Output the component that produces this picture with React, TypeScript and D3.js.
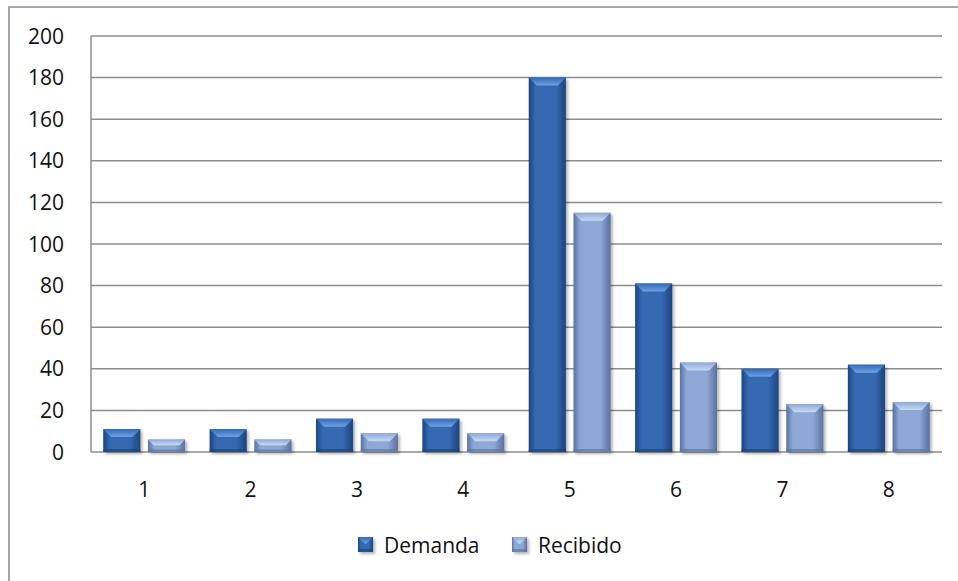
import { useEffect, useRef } from "react";
import * as d3 from "d3";

const categories = ["1", "2", "3", "4", "5", "6", "7", "8"];
const seriesNames = ["Demanda", "Recibido"];
const demanda = [11, 11, 16, 16, 180, 81, 40, 42];
const recibido = [6, 6, 9, 9, 115, 43, 23, 24];
const yTicks = [0, 20, 40, 60, 80, 100, 120, 140, 160, 180, 200];

const width = 958;
const height = 581;

const App = () => {
    const ref = useRef<SVGSVGElement | null>(null);

    useEffect(() => {
        const svg = d3.select(ref.current);
        svg.selectAll("*").remove();

        const marginLeft = 91;
        const marginRight = 942;
        const top = 36;
        const bottom = 452;
        const font = "'Open Sans', 'Liberation Sans', sans-serif";
        const fontSize = 21;

        const defs = svg.append("defs");
        const grads = [
            { id: "g0", edge: "#1c4580", mid: "#3569b2", cap: "#6da2e4", base: "#1d4680" },
            { id: "g1", edge: "#5a71a0", mid: "#8ea8d6", cap: "#c6daf6", base: "#5f77a4" },
        ];
        grads.forEach((g) => {
            const lg = defs.append("linearGradient").attr("id", g.id).attr("x1", 0).attr("x2", 1).attr("y1", 0).attr("y2", 0);
            lg.append("stop").attr("offset", "0%").attr("stop-color", g.edge);
            lg.append("stop").attr("offset", "18%").attr("stop-color", g.mid);
            lg.append("stop").attr("offset", "72%").attr("stop-color", g.mid);
            lg.append("stop").attr("offset", "100%").attr("stop-color", g.edge);
            const cg = defs.append("linearGradient").attr("id", g.id + "cap").attr("x1", 0).attr("x2", 0).attr("y1", 0).attr("y2", 1);
            cg.append("stop").attr("offset", "0%").attr("stop-color", g.mid);
            cg.append("stop").attr("offset", "100%").attr("stop-color", g.cap);
        });
        const filt = defs.append("filter").attr("id", "shadow").attr("x", "-20%").attr("y", "-20%").attr("width", "150%").attr("height", "150%");
        filt.append("feDropShadow").attr("dx", 2).attr("dy", 2).attr("stdDeviation", 1.5).attr("flood-color", "#000").attr("flood-opacity", 0.3);

        // chart border
        svg.append("rect")
            .attr("x", 9).attr("y", 7)
            .attr("width", width + 20).attr("height", height + 20)
            .attr("fill", "#fff")
            .attr("stroke", "#a6a6a6")
            .attr("stroke-width", 2);

        const yScale = d3.scaleLinear().domain([0, 200]).range([bottom, top]);
        const x0 = d3.scaleBand().domain(categories).range([marginLeft, marginRight]).paddingInner(0.23).paddingOuter(0.115);
        const x1 = d3.scaleBand().domain(seriesNames).range([0, x0.bandwidth()]).paddingInner(0.17);

        // gridlines
        svg.append("g")
            .selectAll("line")
            .data(yTicks)
            .join("line")
            .attr("x1", marginLeft).attr("x2", marginRight)
            .attr("y1", (d) => yScale(d)).attr("y2", (d) => yScale(d))
            .attr("stroke", "#8c8c8c")
            .attr("stroke-width", 1.5);

        svg.append("line")
            .attr("x1", marginLeft).attr("x2", marginLeft)
            .attr("y1", top).attr("y2", bottom)
            .attr("stroke", "#8c8c8c")
            .attr("stroke-width", 1.5);

        // y labels
        svg.append("g")
            .selectAll("text")
            .data(yTicks)
            .join("text")
            .attr("x", 64)
            .attr("y", (d) => yScale(d) + 7.5)
            .attr("text-anchor", "end")
            .attr("font-family", font)
            .attr("font-size", fontSize)
            .attr("fill", "#111")
            .text((d) => d);

        // x labels
        svg.append("g")
            .selectAll("text")
            .data(categories)
            .join("text")
            .attr("x", (d) => (x0(d) as number) + x0.bandwidth() / 2)
            .attr("y", 497)
            .attr("text-anchor", "middle")
            .attr("font-family", font)
            .attr("font-size", fontSize)
            .attr("fill", "#111")
            .text((d) => d);

        const drawBar = (g: any, x: number, y: number, w: number, h: number, s: number) => {
            const gr = grads[s];
            g.append("rect")
                .attr("x", x).attr("y", y).attr("width", w).attr("height", h)
                .attr("fill", `url(#${gr.id})`)
                .attr("filter", "url(#shadow)");
            const bev = Math.min(8, h * 0.45);
            g.append("path")
                .attr("d", `M${x},${y}L${x + w},${y}L${x + w - bev},${y + bev}L${x + bev},${y + bev}Z`)
                .attr("fill", `url(#${gr.id}cap)`);
            const bb = Math.min(3, h * 0.2);
            g.append("rect")
                .attr("x", x).attr("y", y + h - bb).attr("width", w).attr("height", bb)
                .attr("fill", gr.base)
                .attr("opacity", 0.7);
        };

        const bars = svg.append("g");
        const values = [demanda, recibido];
        categories.forEach((c, i) => {
            seriesNames.forEach((s, j) => {
                const v = values[j][i];
                const x = (x0(c) as number) + (x1(s) as number);
                const y = yScale(v);
                drawBar(bars, x, y, x1.bandwidth(), yScale(0) - y, j);
            });
        });

        // legend
        const legend = svg.append("g");
        const legendX = [358, 512];
        seriesNames.forEach((s, j) => {
            drawBar(legend, legendX[j], 537, 15, 15, j);
            legend.append("text")
                .attr("x", legendX[j] + 26)
                .attr("y", 553)
                .attr("font-family", font)
                .attr("font-size", fontSize)
                .attr("fill", "#111")
                .text(s);
        });
    }, []);

    return (
        <svg
            ref={ref}
            width={width}
            height={height}
            style={{ position: "absolute", left: 0, top: 0, display: "block" }}
        />
    );
};

export default App;
